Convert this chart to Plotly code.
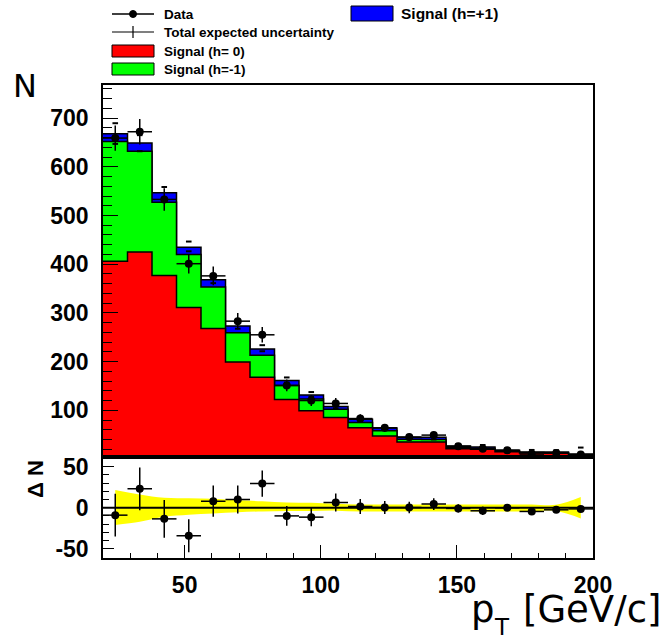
import plotly.graph_objects as go

# ---------------- data ----------------
bin_edges = [20, 29, 38, 47, 56, 65, 74, 83, 92, 101, 110, 119, 128, 137, 146, 155, 164, 173, 182, 191, 200]
sig_h0 = [406, 425, 377, 311, 268, 199, 168, 122, 99, 85, 64, 47, 35, 35, 21, 20, 15, 12, 12, 8]
sig_hm1 = [246, 207, 150, 109, 85, 60, 45, 29, 24, 17, 11, 11, 5.5, 5, 2.5, 2, 1.4, 1.3, 0.7, 0.7]
sig_hp1 = [16, 17, 19.5, 15, 15, 14, 12.7, 9.9, 8.4, 5.6, 6.5, 5.7, 4.1, 4.6, 3.3, 2.7, 1.5, 1.2, 1.8, 1.7]
data_n = [659, 672, 533, 401, 376, 283, 255, 151, 120, 114, 83, 64, 45, 49, 26, 21, 18, 10, 12, 9]
data_err = [26, 26, 23, 20, 19, 17, 16, 12, 11, 11, 9, 8, 7, 7, 5, 5, 4, 3, 4, 3]
unc_hi = [21.5, 16, 12, 11.5, 11, 9, 8, 6.5, 6, 5, 4, 4, 4, 4, 4, 4, 4, 4, 3.5, 13]
unc_lo = [21, 17, 11, 8.5, 7, 5.5, 4.5, 4, 4, 3.5, 4.5, 4.5, 4.5, 4.5, 4.5, 4.5, 4.5, 4.5, 4, 13]
y_ticks_top = [100, 200, 300, 400, 500, 600, 700]
y_ticks_bot = [-50, 0, 50]
y_ticklabels_bot = ["-50", "0", "50"]
x_ticks = [50, 100, 150, 200]

# ---------------- derived ----------------
centers = [(a + b) / 2 for a, b in zip(bin_edges[:-1], bin_edges[1:])]
half_w = [(b - a) / 2 for a, b in zip(bin_edges[:-1], bin_edges[1:])]
lvl_red = list(sig_h0)
lvl_green = [r + g for r, g in zip(sig_h0, sig_hm1)]
lvl_total = [g + b for g, b in zip(lvl_green, sig_hp1)]
resid = [d - t for d, t in zip(data_n, lvl_total)]

W, H = 663, 642
L, R, T, B = 103, 70, 85, 84
PW, PH = W - L - R, H - T - B


def px(x):
    return (x - L) / PW


def py(y):
    return 1 - (y - T) / PH


fig = go.Figure()


def step(vals):
    return list(vals) + [vals[-1]]


# stacked histogram (upper)
for lvl, col in [(lvl_total, "#0000ff"), (lvl_green, "#00ff00"), (lvl_red, "#ff0000")]:
    fig.add_trace(go.Scatter(x=bin_edges, y=step(lvl), mode="lines",
                             line=dict(shape="hv", color="black", width=1.5),
                             fill="tozeroy", fillcolor=col, xaxis="x", yaxis="y",
                             showlegend=False, hoverinfo="skip"))

# expected uncertainty ticks on top of stack
fig.add_trace(go.Scatter(x=centers + centers,
                         y=[t + u for t, u in zip(lvl_total, unc_hi)] + [t - u for t, u in zip(lvl_total, unc_lo)],
                         mode="markers",
                         marker=dict(symbol="line-ew", size=4, line=dict(color="black", width=2)),
                         xaxis="x", yaxis="y", showlegend=False, hoverinfo="skip"))

# data points (upper)
fig.add_trace(go.Scatter(x=centers, y=data_n, mode="markers",
                         marker=dict(color="black", size=8),
                         error_y=dict(type="data", array=data_err, color="black", thickness=1.5, width=0),
                         error_x=dict(type="data", array=half_w, color="black", thickness=1.5, width=0),
                         xaxis="x", yaxis="y", showlegend=False))

# lower panel: uncertainty band
fig.add_trace(go.Scatter(x=centers, y=[-u for u in unc_lo], mode="lines",
                         line=dict(width=0, shape="spline", color="#ffff00"),
                         xaxis="x2", yaxis="y2", showlegend=False, hoverinfo="skip"))
fig.add_trace(go.Scatter(x=centers, y=unc_hi, mode="lines",
                         line=dict(width=0, shape="spline", color="#ffff00"),
                         fill="tonexty", fillcolor="#ffff00",
                         xaxis="x2", yaxis="y2", showlegend=False, hoverinfo="skip"))

# residual points
fig.add_trace(go.Scatter(x=centers, y=resid, mode="markers",
                         marker=dict(color="black", size=8),
                         error_y=dict(type="data", array=data_err, color="black", thickness=1.5, width=0),
                         error_x=dict(type="data", array=half_w, color="black", thickness=1.5, width=0),
                         xaxis="x2", yaxis="y2", showlegend=False))

tickfont = dict(family="Liberation Sans", size=23, color="black", weight="bold")

fig.update_layout(
    width=W, height=H,
    margin=dict(l=L, r=R, t=T, b=B),
    paper_bgcolor="white", plot_bgcolor="white",
    showlegend=False,
    xaxis=dict(domain=[0, 1], range=[20, 200], anchor="y", matches="x2",
               showticklabels=False, ticks="", showgrid=False, zeroline=False,
               showline=True, linecolor="black", linewidth=1.5, mirror=True),
    yaxis=dict(domain=[0.2135, 1], range=[4, 768], anchor="x",
               tickvals=y_ticks_top, ticks="inside", ticklen=15, tickwidth=1.2, tickcolor="black",
               minor=dict(dtick=20, ticks="inside", ticklen=9, tickwidth=1.2, tickcolor="black"),
               tickfont=tickfont, ticklabelstandoff=8,
               showgrid=False, zeroline=False,
               showline=True, linecolor="black", linewidth=1.5, mirror=True),
    xaxis2=dict(domain=[0, 1], range=[20, 200], anchor="y2",
                tickvals=x_ticks, ticks="inside", ticklen=13, tickwidth=1.2, tickcolor="black",
                minor=dict(dtick=10, tick0=0, ticks="inside", ticklen=5, tickwidth=1.2, tickcolor="black"),
                tickfont=tickfont, ticklabelstandoff=6,
                showgrid=False, zeroline=False,
                showline=True, linecolor="black", linewidth=1.5, mirror=True),
    yaxis2=dict(domain=[0, 0.2125], range=[-61, 61], anchor="x2",
                tickvals=y_ticks_bot, ticktext=y_ticklabels_bot,
                ticks="inside", ticklen=11, tickwidth=1.2, tickcolor="black",
                minor=dict(dtick=10, tick0=0, ticks="inside", ticklen=6, tickwidth=1.2, tickcolor="black"),
                tickfont=tickfont, ticklabelstandoff=8,
                showgrid=False, zeroline=False,
                showline=True, linecolor="black", linewidth=1.5, mirror=True),
)

# zero line in lower panel
fig.add_shape(type="line", xref="x2 domain", yref="y2", x0=0, x1=1, y0=0, y1=0,
              line=dict(color="black", width=2), layer="above")

# axis titles
fig.add_annotation(text="N", xref="paper", yref="paper", x=px(11), y=py(65),
                   xanchor="left", yanchor="top", showarrow=False,
                   font=dict(family="DejaVu Sans", size=32, color="black"))
fig.add_annotation(text="Δ N", xref="paper", yref="paper", x=px(35), y=py(479),
                   xanchor="center", yanchor="middle", textangle=-90, showarrow=False,
                   font=dict(family="Liberation Sans", size=22, color="black", weight="bold"))
tfont = dict(family="DejaVu Sans", size=37, color="black")
fig.add_annotation(text="[GeV/c]", xref="paper", yref="paper", x=px(663), y=py(586),
                   xanchor="right", yanchor="top", showarrow=False, font=tfont)
fig.add_annotation(text="p", xref="paper", yref="paper", x=px(469), y=py(586),
                   xanchor="left", yanchor="top", showarrow=False, font=tfont)
fig.add_annotation(text="T", xref="paper", yref="paper", x=px(492), y=py(612),
                   xanchor="left", yanchor="top", showarrow=False,
                   font=dict(family="DejaVu Sans", size=23, color="black"))

# manual legend
lf = dict(family="Liberation Sans", size=13.5, color="black", weight="bold")
fig.add_shape(type="line", xref="paper", yref="paper", x0=px(112), x1=px(154), y0=py(14), y1=py(14),
              line=dict(color="black", width=1.5))
fig.add_shape(type="circle", xref="paper", yref="paper", x0=px(129.5), x1=px(136.5), y0=py(10.5), y1=py(17.5),
              fillcolor="black", line=dict(color="black", width=1))
fig.add_shape(type="line", xref="paper", yref="paper", x0=px(112), x1=px(154), y0=py(32), y1=py(32),
              line=dict(color="black", width=1.2))
fig.add_shape(type="line", xref="paper", yref="paper", x0=px(133), x1=px(133), y0=py(26), y1=py(38),
              line=dict(color="black", width=1.2))
fig.add_shape(type="rect", xref="paper", yref="paper", x0=px(112), x1=px(154), y0=py(45), y1=py(57),
              fillcolor="#ff0000", line=dict(color="black", width=1))
fig.add_shape(type="rect", xref="paper", yref="paper", x0=px(112), x1=px(154), y0=py(63), y1=py(75),
              fillcolor="#00ff00", line=dict(color="black", width=1))
fig.add_shape(type="rect", xref="paper", yref="paper", x0=px(351), x1=px(393), y0=py(6), y1=py(21),
              fillcolor="#0000ff", line=dict(color="black", width=1))

for txt, yy in [("Data", 14), ("Total expected uncertainty", 32), ("Signal (h= 0)", 51), ("Signal (h=-1)", 69.5)]:
    fig.add_annotation(text=txt, xref="paper", yref="paper", x=px(162), y=py(yy),
                       xanchor="left", yanchor="middle", showarrow=False, font=lf)
fig.add_annotation(text="Signal (h=+1)", xref="paper", yref="paper", x=px(399), y=py(13),
                   xanchor="left", yanchor="middle", showarrow=False,
                   font=dict(family="Liberation Sans", size=15.5, color="black", weight="bold"))

fig.write_html("out.html")
